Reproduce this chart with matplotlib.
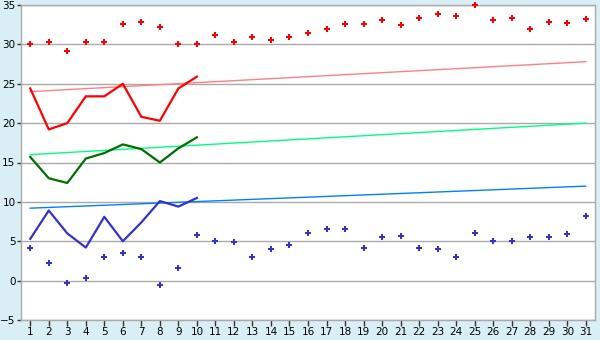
import matplotlib.pyplot as plt

days = list(range(1, 32))

# daily points (all 31 days)
high_points = [30.0, 30.3, 29.1, 30.3, 30.3, 32.6, 32.9, 32.2, 30.0, 30.1,
               31.2, 30.3, 30.9, 30.6, 31.0, 31.5, 32.0, 32.6, 32.6, 33.1,
               32.4, 33.4, 33.9, 33.6, 35.0, 33.1, 33.4, 32.0, 32.8, 32.7, 33.2]
low_points = [4.1, 2.2, -0.3, 0.3, 3.0, 3.5, 3.0, -0.5, 1.6, 5.8,
              5.0, 4.9, 3.0, 4.0, 4.5, 6.0, 6.5, 6.5, 4.1, 5.5,
              5.7, 4.1, 4.0, 3.0, 6.1, 5.0, 5.0, 5.6, 5.6, 5.9, 8.2]

# first ten days lines
line_days = list(range(1, 11))
red_line = [24.4, 19.2, 20.0, 23.4, 23.4, 25.0, 20.8, 20.3, 24.4, 25.9]
green_line = [15.7, 13.0, 12.4, 15.5, 16.2, 17.3, 16.7, 15.0, 16.8, 18.2]
blue_line = [5.3, 8.9, 6.0, 4.2, 8.1, 5.0, 7.4, 10.1, 9.4, 10.5]

# trend lines (start at day 1, end at day 31)
trend_x = [1, 31]
red_trend = [24.0, 27.8]
green_trend = [16.0, 20.0]
blue_trend = [9.2, 12.0]

bg = '#daeff5'
fig = plt.figure(figsize=(6, 3.4), dpi=100, facecolor=bg)
ax = fig.add_axes([21 / 600, 20 / 340, 574 / 600, 315 / 340])
ax.set_facecolor('white')

ax.plot(trend_x, red_trend, color='#ff8080', lw=1)
ax.plot(trend_x, green_trend, color='#00ff80', lw=1)
ax.plot(trend_x, blue_trend, color='#0080ff', lw=1)

ax.plot(line_days, red_line, color='#ff0000', lw=1.6)
ax.plot(line_days, green_line, color='#006f00', lw=1.6)
ax.plot(line_days, blue_line, color='#3333cc', lw=1.6)

ax.plot(days, high_points, ls='none', marker='P', ms=4.8, color='#ff0000',
        mew=0, clip_on=False, zorder=5)
ax.plot(days, low_points, ls='none', marker='P', ms=4.8, color='#3333cc',
        mew=0, clip_on=False, zorder=5)

ax.set_xlim(0.5, 31.5)
ax.set_ylim(-5, 35)
ax.set_xticks(days)
ax.set_yticks(range(-5, 36, 5))
ax.set_yticklabels([str(v).replace('-', '\u2212') for v in range(-5, 36, 5)])
ax.grid(axis='y', color='#aaaaaa', lw=1)
ax.set_axisbelow(True)
ax.tick_params(axis='x', length=4, width=1, color='#333333', labelsize=7.5, pad=1)
ax.tick_params(axis='y', length=3, width=1, color='#333333', labelsize=7.5, pad=1)
for side in ['left', 'bottom', 'right', 'top']:
    ax.spines[side].set_color('#aaaaaa')
    ax.spines[side].set_linewidth(1)

fig.savefig('out.png', dpi=100, facecolor=bg)
